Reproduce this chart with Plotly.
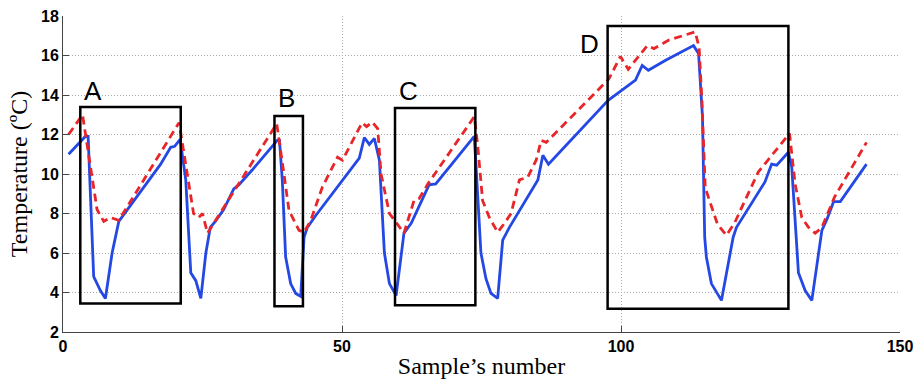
import plotly.graph_objects as go

# ---- data ----
blue_x = [1, 4, 4.5, 5.5, 6.7, 7.6, 8.8, 10, 17.5, 19.3, 20, 21, 22, 22.9, 23.8, 24.7,
          25.6, 26.4, 27.3, 28.8, 30.6, 31.5, 33.9, 38.4, 38.8, 39.3, 39.9, 40.8, 41.7,
          42.6, 43.2, 43.8, 45.3, 53.1, 54, 54.9, 55.8, 56.7, 57.6, 58.5, 59.7, 61.1,
          62.4, 65.6, 66.8, 73.7, 74, 74.9, 75.8, 76.7, 77.9, 78.8, 80, 85.1, 86, 87,
          97.7, 102.6, 103.8, 104.9, 108, 111.5, 113, 113.9, 114.6, 115, 115.3, 116.2,
          118, 120.1, 120.7, 125.8, 127, 127.9, 130, 130.6, 131.8, 133, 134.2, 136,
          136.9, 138.1, 139.3, 144]
blue_y = [11.0, 11.9, 11.9, 4.8, 4.1, 3.7, 6.0, 7.6, 10.5, 11.35, 11.4, 11.75, 9.7, 5.0,
          4.6, 3.7, 6.0, 7.3, 7.6, 8.2, 9.25, 9.45, 10.2, 11.7, 11.7, 9.7, 5.8, 4.45,
          3.95, 3.8, 6.8, 7.3, 7.9, 10.8, 11.85, 11.5, 11.8, 10.7, 6.0, 4.45, 3.85, 7.0,
          7.5, 9.45, 9.5, 11.9, 10.5, 6.0, 4.7, 3.95, 3.7, 6.65, 7.3, 9.7, 10.95, 10.5,
          13.73, 14.75, 15.5, 15.25, 15.76, 16.26, 16.5, 16.1, 12.9, 6.8, 5.8, 4.45,
          3.6, 6.8, 7.3, 9.6, 10.5, 10.45, 11.1, 10.35, 5.0, 4.1, 3.6, 7.15, 7.7, 8.6,
          8.6, 10.5]

red_x = [1, 3.5, 6.1, 7.3, 8.5, 10, 20.8, 22.2, 23.4, 24.3, 25, 25.9, 38.3, 39.6, 40.5,
         42.3, 43.2, 44.4, 46.5, 49.2, 50.1, 53.6, 54.4, 55.4, 56.4, 57, 58.5, 59.7,
         61.1, 62.9, 63.8, 65.4, 73.7, 74.3, 75.2, 76.4, 77.9, 79.1, 80.3, 81.8, 83.3,
         84.8, 85.7, 86.6, 97.8, 99.9, 101.3, 104.7, 105.9, 108.5, 111.2, 113.3, 114.0,
         114.5, 115.1, 116.3, 117.3, 118.9, 120.4, 124.6, 130.2, 131.2, 132.4, 133.6,
         134.8, 136, 138.3, 144]
red_y = [12.0, 13.0, 8.2, 7.6, 7.8, 7.65, 12.6, 10.0, 8.0, 7.8, 8.0, 7.0, 12.55, 10.0,
         8.15, 7.15, 7.05, 7.65, 9.35, 10.85, 10.7, 12.6, 12.4, 12.63, 12.3, 10.0, 8.0,
         7.55, 7.0, 8.65, 8.75, 9.5, 12.9, 11.5, 8.65, 7.8, 7.05, 7.5, 8.0, 9.7, 9.85,
         10.7, 11.7, 11.6, 14.8, 15.95, 15.3, 16.5, 16.35, 16.77, 17.0, 17.2, 16.4,
         13.7, 9.3, 8.3, 7.45, 6.9, 7.55, 10.1, 12.05, 9.5, 7.8, 7.3, 7.0, 7.3, 8.85,
         11.6]

# highlighted regions: label, x0, x1, y0, y1, label position
box_labels = ["A", "B", "C", "D"]
box_x0 = [3.1, 37.9, 59.5, 97.6]
box_x1 = [21.1, 43.0, 73.9, 130.0]
box_y0 = [3.44, 3.3, 3.35, 3.18]
box_y1 = [13.39, 12.94, 13.34, 17.49]
label_x = [5.3, 40.1, 61.9, 94.3]
label_y = [14.2, 13.85, 14.2, 16.6]

x_ticks = [0, 50, 100, 150]
y_ticks = [2, 4, 6, 8, 10, 12, 14, 16, 18]

fig = go.Figure()
fig.add_trace(go.Scatter(x=blue_x, y=blue_y, mode="lines",
                         line=dict(color="#2448e4", width=2.8), showlegend=False))
fig.add_trace(go.Scatter(x=red_x, y=red_y, mode="lines",
                         line=dict(color="#e8262a", width=2.8, dash="8px,5px"),
                         showlegend=False))

for lab, x0, x1, y0, y1, lx, ly in zip(box_labels, box_x0, box_x1, box_y0, box_y1,
                                      label_x, label_y):
    fig.add_shape(type="rect", x0=x0, x1=x1, y0=y0, y1=y1, xref="x", yref="y",
                  line=dict(color="black", width=2.5), fillcolor="rgba(0,0,0,0)")
    fig.add_annotation(x=lx, y=ly, xref="x", yref="y", text=lab, showarrow=False,
                       font=dict(family="Liberation Sans, Arial", size=26, color="black"),
                       xanchor="center", yanchor="middle")

tickfont = dict(family="Liberation Sans, Arial", size=16, color="black", weight="bold")
titlefont = dict(family="Liberation Serif, Times New Roman", size=24, color="black")

fig.update_layout(
    width=914, height=381,
    margin=dict(l=63, r=14, t=16, b=49),
    paper_bgcolor="white", plot_bgcolor="white",
    xaxis=dict(range=[0, 150], tickvals=x_ticks, ticks="inside", ticklen=6,
               tickcolor="#444", showline=True, linecolor="#444", linewidth=1,
               showgrid=True, gridcolor="#aaaaaa", griddash="1px,2px", gridwidth=1,
               zeroline=False, tickfont=tickfont, automargin=False,
               title=dict(text="Sample’s number", font=titlefont, standoff=2)),
    yaxis=dict(range=[2, 18], tickvals=y_ticks, ticks="inside", ticklen=6,
               tickcolor="#444", showline=True, linecolor="#444", linewidth=1,
               showgrid=True, gridcolor="#aaaaaa", griddash="1px,2px", gridwidth=1,
               zeroline=False, tickfont=tickfont, automargin=False,
               title=dict(text="Temperature (ºC)", font=titlefont, standoff=6)),
)

fig.write_html("out.html",
               config={"displayModeBar": False},
               post_script="document.body.style.margin='0';document.body.style.overflow='hidden';")
